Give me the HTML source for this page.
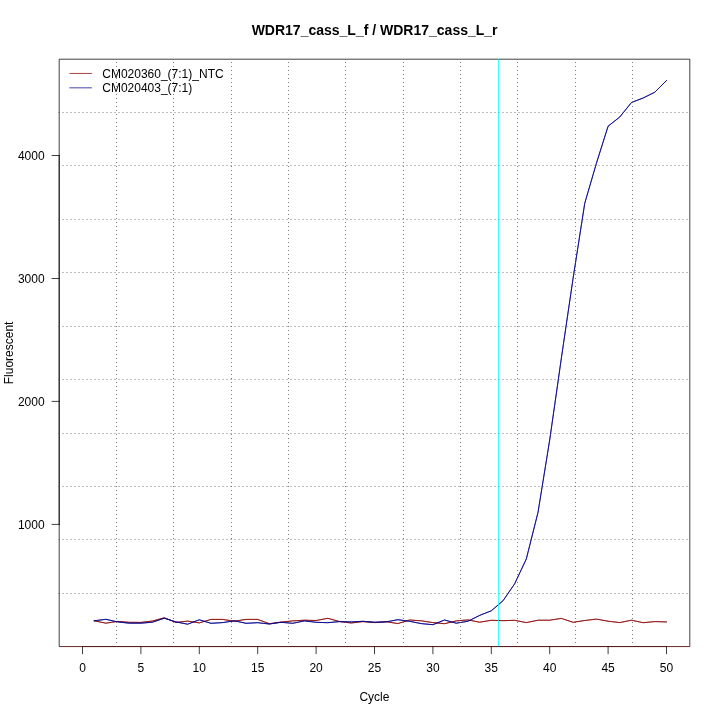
<!DOCTYPE html>
<html><head><meta charset="utf-8"><title>WDR17_cass_L_f / WDR17_cass_L_r</title>
<style>html,body{margin:0;padding:0;background:#fff;}body{width:720px;height:720px;overflow:hidden;}svg{display:block;will-change:transform;}text{filter:grayscale(1);font-family:"Liberation Sans",sans-serif;fill:#000;}</style></head><body>
<svg width="720" height="720" viewBox="0 0 720 720">
<rect x="0" y="0" width="720" height="720" fill="#ffffff"/>
<text x="374.6" y="34.5" font-size="14" font-weight="bold" text-anchor="middle">WDR17_cass_L_f / WDR17_cass_L_r</text>
<text x="374.4" y="700.7" font-size="12" text-anchor="middle">Cycle</text>
<text transform="translate(13.2,352.9) rotate(-90)" font-size="12" text-anchor="middle">Fluorescent</text>
<polyline points="94.18,620.80 105.86,623.20 117.54,621.40 129.22,622.30 140.90,622.40 152.58,621.00 164.26,617.80 175.94,622.40 187.62,621.10 199.30,622.90 210.98,619.40 222.66,619.40 234.34,621.20 246.02,619.40 257.70,619.40 269.38,623.70 281.06,622.10 292.74,620.90 304.42,620.20 316.10,620.50 327.78,618.30 339.46,621.50 351.14,623.00 362.82,621.60 374.50,622.60 386.18,621.70 397.86,623.60 409.54,620.00 421.22,620.80 432.90,622.60 444.58,623.70 456.26,620.90 467.94,619.90 479.62,622.20 491.30,620.30 502.98,620.70 514.66,620.30 526.34,622.60 538.02,620.20 549.70,620.20 561.38,618.40 573.06,622.30 584.74,620.50 596.42,619.10 608.10,621.20 619.78,622.60 631.46,620.20 643.14,622.70 654.82,621.60 666.50,621.90" fill="none" stroke="#8b0000" stroke-opacity="1" stroke-width="0.75" stroke-linejoin="round" stroke-linecap="round"/>
<polyline points="94.18,620.80 105.86,623.20 117.54,621.40 129.22,622.30 140.90,622.40 152.58,621.00 164.26,617.80 175.94,622.40 187.62,621.10 199.30,622.90 210.98,619.40 222.66,619.40 234.34,621.20 246.02,619.40 257.70,619.40 269.38,623.70 281.06,622.10 292.74,620.90 304.42,620.20 316.10,620.50 327.78,618.30 339.46,621.50 351.14,623.00 362.82,621.60 374.50,622.60 386.18,621.70 397.86,623.60 409.54,620.00 421.22,620.80 432.90,622.60 444.58,623.70 456.26,620.90 467.94,619.90 479.62,622.20 491.30,620.30 502.98,620.70 514.66,620.30 526.34,622.60 538.02,620.20 549.70,620.20 561.38,618.40 573.06,622.30 584.74,620.50 596.42,619.10 608.10,621.20 619.78,622.60 631.46,620.20 643.14,622.70 654.82,621.60 666.50,621.90" fill="none" stroke="#8b0000" stroke-opacity="0.85" stroke-width="0.75" stroke-linejoin="round" stroke-linecap="round"/>
<polyline points="94.18,620.80 105.86,619.30 117.54,621.90 129.22,623.20 140.90,623.20 152.58,622.20 164.26,618.20 175.94,621.90 187.62,624.20 199.30,619.80 210.98,623.30 222.66,622.60 234.34,620.80 246.02,623.30 257.70,622.70 269.38,624.00 281.06,622.30 292.74,623.30 304.42,620.90 316.10,622.30 327.78,622.70 339.46,621.60 351.14,621.90 362.82,621.30 374.50,622.20 386.18,621.90 397.86,619.70 409.54,621.30 421.22,623.60 432.90,624.70 444.58,620.00 456.26,623.20 467.94,621.25 479.62,615.40 491.30,610.80 502.98,600.80 514.66,583.80 526.34,558.90 538.02,512.30 549.70,440.00 561.38,358.00 573.06,278.50 584.74,203.30 596.42,163.30 608.10,126.20 619.78,117.00 631.46,102.50 643.14,98.00 654.82,92.20 666.50,80.50" fill="none" stroke="#00008b" stroke-opacity="1" stroke-width="0.75" stroke-linejoin="round" stroke-linecap="round"/>
<polyline points="94.18,620.80 105.86,619.30 117.54,621.90 129.22,623.20 140.90,623.20 152.58,622.20 164.26,618.20 175.94,621.90 187.62,624.20 199.30,619.80 210.98,623.30 222.66,622.60 234.34,620.80 246.02,623.30 257.70,622.70 269.38,624.00 281.06,622.30 292.74,623.30 304.42,620.90 316.10,622.30 327.78,622.70 339.46,621.60 351.14,621.90 362.82,621.30 374.50,622.20 386.18,621.90 397.86,619.70 409.54,621.30 421.22,623.60 432.90,624.70 444.58,620.00 456.26,623.20 467.94,621.25 479.62,615.40 491.30,610.80 502.98,600.80 514.66,583.80 526.34,558.90 538.02,512.30 549.70,440.00 561.38,358.00 573.06,278.50 584.74,203.30 596.42,163.30 608.10,126.20 619.78,117.00 631.46,102.50 643.14,98.00 654.82,92.20 666.50,80.50" fill="none" stroke="#00008b" stroke-opacity="1" stroke-width="0.75" stroke-linejoin="round" stroke-linecap="round"/>
<g stroke="#000" stroke-width="0.75" fill="none" stroke-linecap="round">
<line x1="82.50" y1="646.56" x2="666.50" y2="646.56" stroke-opacity="0.65"/>
<line x1="82.50" y1="646.56" x2="82.50" y2="653.76"/>
<line x1="140.90" y1="646.56" x2="140.90" y2="653.76"/>
<line x1="199.30" y1="646.56" x2="199.30" y2="653.76"/>
<line x1="257.70" y1="646.56" x2="257.70" y2="653.76"/>
<line x1="316.10" y1="646.56" x2="316.10" y2="653.76"/>
<line x1="374.50" y1="646.56" x2="374.50" y2="653.76"/>
<line x1="432.90" y1="646.56" x2="432.90" y2="653.76"/>
<line x1="491.30" y1="646.56" x2="491.30" y2="653.76"/>
<line x1="549.70" y1="646.56" x2="549.70" y2="653.76"/>
<line x1="608.10" y1="646.56" x2="608.10" y2="653.76"/>
<line x1="666.50" y1="646.56" x2="666.50" y2="653.76"/>
<line x1="59.2" y1="524.4" x2="59.2" y2="155.5"/>
<line x1="59.2" y1="524.4" x2="52.00" y2="524.4"/>
<line x1="59.2" y1="401.4" x2="52.00" y2="401.4"/>
<line x1="59.2" y1="278.5" x2="52.00" y2="278.5"/>
<line x1="59.2" y1="155.5" x2="52.00" y2="155.5"/>
<polyline points="59.2,646.56 59.2,59.2 689.8,59.2 689.8,646.56" stroke-linejoin="miter" stroke-linecap="butt"/>
<line x1="59.2" y1="646.56" x2="689.8" y2="646.56" stroke-opacity="0.87" stroke-linecap="butt"/>
</g>
<text x="82.50" y="671.9" font-size="12" text-anchor="middle">0</text>
<text x="140.90" y="671.9" font-size="12" text-anchor="middle">5</text>
<text x="199.30" y="671.9" font-size="12" text-anchor="middle">10</text>
<text x="257.70" y="671.9" font-size="12" text-anchor="middle">15</text>
<text x="316.10" y="671.9" font-size="12" text-anchor="middle">20</text>
<text x="374.50" y="671.9" font-size="12" text-anchor="middle">25</text>
<text x="432.90" y="671.9" font-size="12" text-anchor="middle">30</text>
<text x="491.30" y="671.9" font-size="12" text-anchor="middle">35</text>
<text x="549.70" y="671.9" font-size="12" text-anchor="middle">40</text>
<text x="608.10" y="671.9" font-size="12" text-anchor="middle">45</text>
<text x="666.50" y="671.9" font-size="12" text-anchor="middle">50</text>
<text x="44.64" y="528.70" font-size="12" text-anchor="end">1000</text>
<text x="44.64" y="405.70" font-size="12" text-anchor="end">2000</text>
<text x="44.64" y="282.80" font-size="12" text-anchor="end">3000</text>
<text x="44.64" y="159.80" font-size="12" text-anchor="end">4000</text>
<g stroke="#4d4d4d" stroke-width="0.75" fill="none" stroke-dasharray="1 3">
<line x1="116.5" y1="62" x2="116.5" y2="646.56"/>
<line x1="173.5" y1="62" x2="173.5" y2="646.56"/>
<line x1="231.5" y1="62" x2="231.5" y2="646.56"/>
<line x1="288.5" y1="62" x2="288.5" y2="646.56"/>
<line x1="345.5" y1="62" x2="345.5" y2="646.56"/>
<line x1="403.5" y1="62" x2="403.5" y2="646.56"/>
<line x1="460.5" y1="62" x2="460.5" y2="646.56"/>
<line x1="517.5" y1="62" x2="517.5" y2="646.56"/>
<line x1="575.5" y1="62" x2="575.5" y2="646.56"/>
<line x1="632.5" y1="62" x2="632.5" y2="646.56"/>
<line x1="58.5" y1="112.5" x2="689.8" y2="112.5"/>
<line x1="58.5" y1="165.5" x2="689.8" y2="165.5"/>
<line x1="58.5" y1="219.5" x2="689.8" y2="219.5"/>
<line x1="58.5" y1="272.5" x2="689.8" y2="272.5"/>
<line x1="58.5" y1="326.5" x2="689.8" y2="326.5"/>
<line x1="58.5" y1="379.5" x2="689.8" y2="379.5"/>
<line x1="58.5" y1="433.5" x2="689.8" y2="433.5"/>
<line x1="58.5" y1="486.5" x2="689.8" y2="486.5"/>
<line x1="58.5" y1="539.5" x2="689.8" y2="539.5"/>
<line x1="58.5" y1="593.5" x2="689.8" y2="593.5"/>
</g>
<line x1="498.5" y1="59.2" x2="498.5" y2="646.56" stroke="#00ffff" stroke-width="0.75"/>
<line x1="59.2" y1="646.56" x2="689.8" y2="646.56" stroke="#8b0000" stroke-opacity="0.56" stroke-width="0.75"/>
<line x1="69.84" y1="73.44" x2="91.44" y2="73.44" stroke="#8b0000" stroke-width="0.75" stroke-linecap="round"/>
<line x1="69.84" y1="87.84" x2="91.44" y2="87.84" stroke="#00008b" stroke-width="0.75" stroke-linecap="round"/>
<text x="102.24" y="77.8" font-size="12">CM020360_(7:1)_NTC</text>
<text x="102.24" y="92.2" font-size="12">CM020403_(7:1)</text>
</svg></body></html>
